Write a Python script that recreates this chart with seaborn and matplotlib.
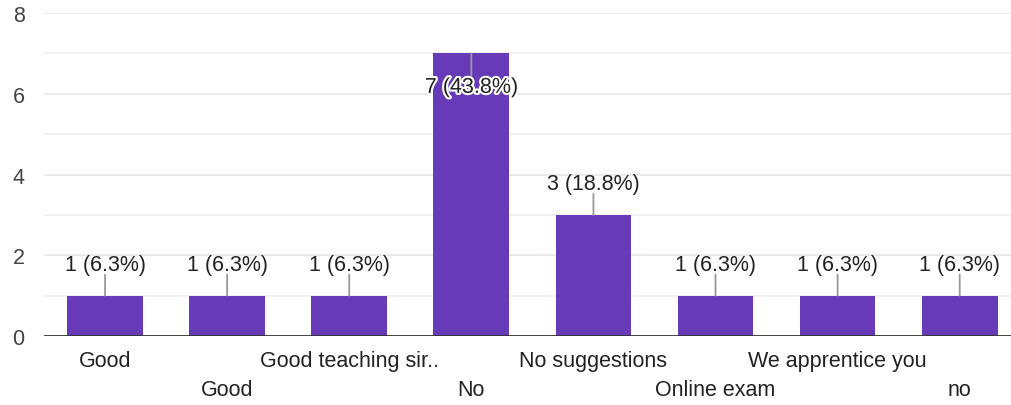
import matplotlib
matplotlib.use("Agg")
import matplotlib.pyplot as plt
import matplotlib.patheffects as pe
import seaborn as sns
import pandas as pd

categories = ["Good", "Good", "Good teaching sir..", "No", "No suggestions",
              "Online exam", "We apprentice you", "no"]
counts = [1, 1, 1, 7, 3, 1, 1, 1]
percents = ["6.3%", "6.3%", "6.3%", "43.8%", "18.8%", "6.3%", "6.3%", "6.3%"]
y_ticks = [0, 2, 4, 6, 8]

sns.set_theme(style="white")
plt.rcParams['font.family'] = ['Liberation Sans', 'DejaVu Sans']

df = pd.DataFrame({"pos": list(range(len(categories))), "count": counts})

FS = 15.5
dpi = 100
fig = plt.figure(figsize=(10.11, 4.06), dpi=dpi)
ax = fig.add_axes([44 / 1011, (406 - 337) / 406, 1 - 44 / 1011, (337 - 14) / 406])

sns.barplot(data=df, x="pos", y="count", color="#673AB7", saturation=1,
            width=0.62, ax=ax, zorder=3, linewidth=0)

ax.set_ylim(0, 8)
ax.set_xlim(-0.5, 7.42)
for v in range(0, 9):
    ax.axhline(v, color="#e6e6e6" if v % 2 == 0 else "#f0f0f0", lw=1.2, zorder=1)
ax.axhline(0, color="#333333", lw=2, zorder=4)

for s in ax.spines.values():
    s.set_visible(False)

ax.set_yticks(y_ticks)
ax.set_yticklabels([str(t) for t in y_ticks], fontsize=FS, color="#444444")
ax.tick_params(axis="y", length=0, pad=14)
ax.tick_params(axis="x", length=0)
ax.set_xticks(range(len(categories)))
ax.set_xticklabels([""] * len(categories))
ax.set_xlabel("")
ax.set_ylabel("")

px = 72 / dpi
for i, (c, p) in enumerate(zip(counts, percents)):
    label = f"{c} ({p})"
    if c >= 6:
        ax.annotate("", xy=(i, c), xytext=(0, -22 * px), textcoords="offset points",
                    arrowprops=dict(arrowstyle="-", color="#999999", lw=1.3,
                                    shrinkA=0, shrinkB=0), zorder=5)
        ax.annotate(label, xy=(i, c), xytext=(0, -34 * px), textcoords="offset points",
                    ha="center", va="center", fontsize=FS, color="#222222", zorder=6,
                    path_effects=[pe.withStroke(linewidth=3, foreground="white")])
    else:
        ax.annotate("", xy=(i, c), xytext=(0, 21 * px), textcoords="offset points",
                    arrowprops=dict(arrowstyle="-", color="#999999", lw=1.3,
                                    shrinkA=0, shrinkB=0), zorder=5)
        ax.annotate(label, xy=(i, c), xytext=(0, 31 * px), textcoords="offset points",
                    ha="center", va="center", fontsize=FS, color="#222222", zorder=6)

for i, name in enumerate(categories):
    off = 25 if i % 2 == 0 else 54
    ax.annotate(name, xy=(i, 0), xytext=(0, -off * px), textcoords="offset points",
                ha="center", va="center", fontsize=FS, color="#222222",
                annotation_clip=False)

fig.savefig("out.png", dpi=dpi)
